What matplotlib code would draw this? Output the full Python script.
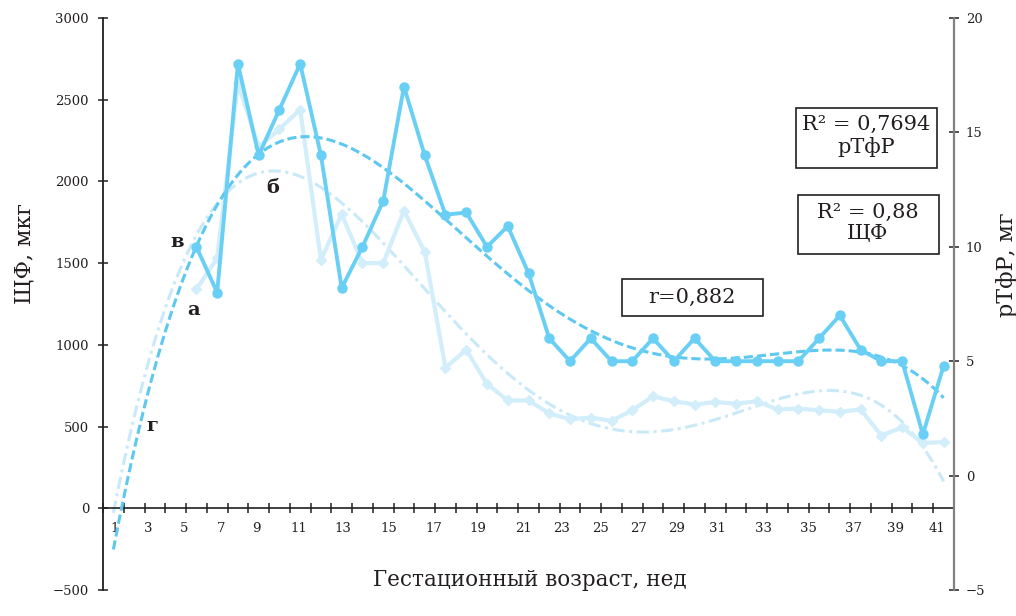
import matplotlib
matplotlib.use("Agg")
import matplotlib.pyplot as plt
from matplotlib.patches import Rectangle
import numpy as np

# data: gestational week 5..41
weeks = np.arange(5, 42)
# рТфР, мг (right axis) - dark line with circles
rtfr = [10, 8, 18, 14, 16, 18, 14, 8.2, 10, 12, 17, 14, 11.4, 11.5, 10, 10.9, 8.85,
        6, 5, 6, 5, 5, 6, 5, 6, 5, 5, 5, 5, 5, 6, 7, 5.5, 5, 5, 1.8, 4.8]
# ЩФ, мкг (left axis) - pale line with diamonds
shchf = [1340, 1530, 2600, 2210, 2320, 2440, 1520, 1800, 1500, 1500, 1820, 1570,
         860, 970, 760, 660, 660, 580, 545, 555, 535, 600, 685, 655, 635, 650,
         640, 655, 605, 610, 600, 590, 605, 445, 495, 400, 405]

tick_weeks = list(range(1, 42, 2))
# where the week labels sit along the category axis (they drift in the original)
tick_pos = [1.08, 2.68, 4.42, 6.17, 7.9, 9.91, 12.08, 14.25, 16.46, 18.58, 20.75,
            22.6, 24.45, 26.29, 28.11, 30.1, 32.31, 34.48, 36.65, 38.66, 40.67]

DARK = "#6acff5"
PALE = "#d3eefb"
INK = "#231f20"
W, H = 1016, 616


def px(x, y):
    return x / W, 1 - y / H


plt.rcParams["font.family"] = ["DejaVu Serif"]

fig = plt.figure(figsize=(W / 100, H / 100), dpi=100)
ax = fig.add_axes([103 / W, 1 - 590 / H, (954 - 103) / W, (590 - 18) / H])
ax2 = ax.twinx()

# 4th-degree polynomial trend lines (R² 0,88 and 0,7694 in the original)
grid = np.linspace(1, 41, 400)
fit_s = np.polynomial.Polynomial.fit(weeks, shchf, 4)
fit_r = np.polynomial.Polynomial.fit(weeks, rtfr, 4)

ax.plot(grid, fit_s(grid), color="#c9e9f8", lw=2.2, ls=(0, (4, 1.5, 1, 1.5)), zorder=2)
ax.plot(weeks, shchf, color=PALE, lw=3, marker="D", ms=5, zorder=3)
ax2.plot(grid, fit_r(grid), color="#5ec8f0", lw=2.2, ls=(0, (3, 1.3)), zorder=2)
ax2.plot(weeks, rtfr, color=DARK, lw=2.8, marker="o", ms=6.5, zorder=3)

ax.set_xlim(0.5, 41.5)
ax.set_ylim(-500, 3000)
ax2.set_ylim(-5, 20)

for s in ["top", "right"]:
    ax.spines[s].set_visible(False)
ax.spines["bottom"].set_position(("data", 0))
ax.spines["bottom"].set_color(INK)
ax.spines["left"].set_color(INK)
ax.spines["left"].set_linewidth(1.3)
ax.spines["bottom"].set_linewidth(1.2)
for s in ["top", "left", "bottom"]:
    ax2.spines[s].set_visible(False)
ax2.spines["right"].set_color("#808080")
ax2.spines["right"].set_linewidth(1.6)

ax.set_yticks(range(-500, 3001, 500))
ax.tick_params(axis="y", direction="inout", length=7, width=1.1, pad=6.5,
               labelsize=9.5, colors=INK)
ax.set_xticks(np.arange(0.5, 41.6, 1))
ax.set_xticklabels([])
ax.tick_params(axis="x", which="major", direction="inout", length=6.5, width=1.1, colors=INK)
ax.set_xticks(tick_pos, minor=True)
ax.set_xticklabels([str(w) for w in tick_weeks], minor=True)
ax.tick_params(axis="x", which="minor", length=0, pad=10, labelsize=9.5, colors=INK)

ax2.set_yticks(range(-5, 21, 5))
ax2.tick_params(axis="y", direction="inout", length=7, width=1.1, pad=5,
                labelsize=9.5, colors=INK)

# axis titles
fig.text(*px(24, 253), "ЩФ, мкг", rotation=90, ha="center", va="center",
         fontsize=16, color=INK)
fig.text(*px(1007, 265), "рТфР, мг", rotation=90, ha="center", va="center",
         fontsize=16, color=INK)
fig.text(*px(530, 580), "Гестационный возраст, нед", ha="center", va="center",
         fontsize=15.5, color=INK)

# boxed annotations
boxes = [
    ((796, 108, 141, 60), (866, 136), "R² = 0,7694\nрТфР"),
    ((798, 195, 141, 59), (868, 223), "R² = 0,88\nЩФ"),
    ((622, 279, 141, 37), (692, 297), "r=0,882"),
]
for (x0, y0, bw, bh), (tx, ty), txt in boxes:
    fig.add_artist(Rectangle(px(x0, y0 + bh), bw / W, bh / H, transform=fig.transFigure,
                             facecolor="white", edgecolor=INK, lw=1.2, zorder=5))
    fig.text(*px(tx, ty), txt, ha="center", va="center", fontsize=15,
             linespacing=1.2, color=INK, zorder=6)

# curve letters
for (x, y), letter in [((194, 310), "а"), ((273, 188), "б"), ((177, 242), "в"), ((152, 426), "г")]:
    fig.text(*px(x, y), letter, ha="center", va="center", fontsize=14,
             fontweight="bold", color=INK)

fig.savefig("out.png", dpi=100)
